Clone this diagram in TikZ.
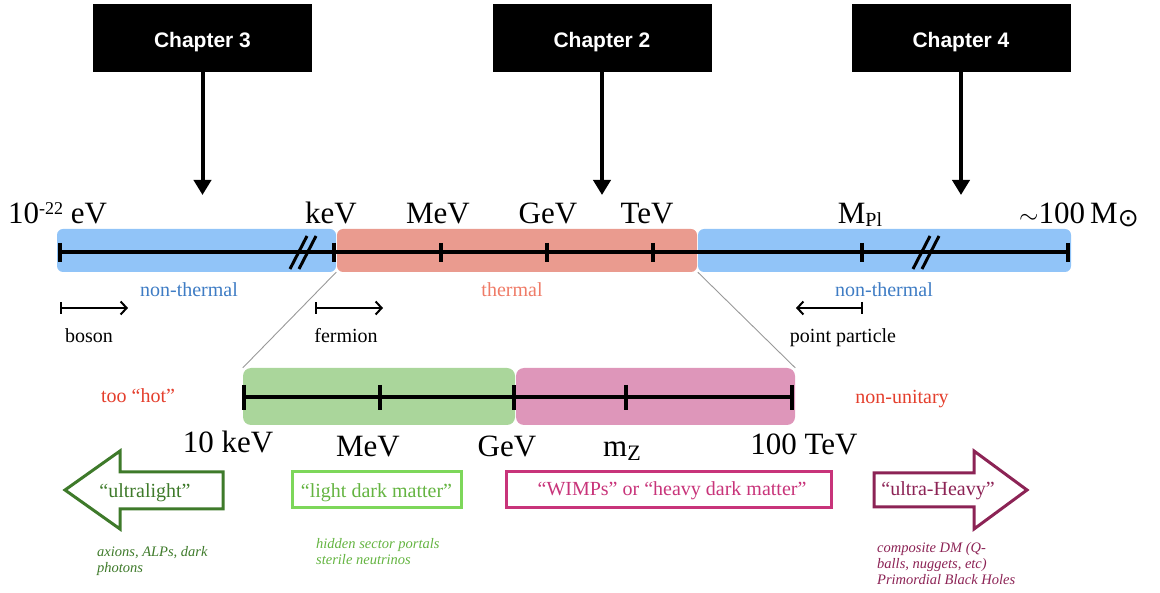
\documentclass[tikz,border=0pt]{standalone}
\usepackage{fontspec}
\setmainfont{Liberation Serif}
\newfontfamily\chapfont{Liberation Sans}
\newfontfamily\symbfont{DejaVu Sans}
\usetikzlibrary{arrows.meta}
\newcommand\setfs[1]{\fontsize{#1}{#1}\selectfont}
\definecolor{bandblue}{RGB}{145,196,248}
\definecolor{bandred}{RGB}{234,155,143}
\definecolor{bandgreen}{RGB}{170,214,155}
\definecolor{bandpink}{RGB}{222,150,186}
\definecolor{txtblue}{RGB}{62,124,196}
\definecolor{txtsalmon}{RGB}{239,123,103}
\definecolor{txtred}{RGB}{228,62,44}
\definecolor{dkgreen}{RGB}{62,122,42}
\definecolor{ltgreen}{RGB}{125,215,90}
\definecolor{ltgreentxt}{RGB}{100,180,65}
\definecolor{wimp}{RGB}{200,52,122}
\definecolor{uheavy}{RGB}{140,35,85}
\begin{document}
\begin{tikzpicture}[x=1pt,y=-1pt,
  chap/.style={fill=black, text=white, font=\chapfont\bfseries\setfs{21}, minimum width=219pt, minimum height=68pt, inner sep=0pt, text height=19pt, text depth=0pt},
  chaparrow/.style={line width=4pt, -{Triangle[width=17pt,length=15pt]}},
  big/.style={font=\setfs{31}, inner sep=0pt, anchor=base},
  mid/.style={font=\setfs{20}, inner sep=0pt, anchor=base},
  note/.style={font=\fontsize{14.5}{16}\selectfont\itshape, align=left, inner sep=0pt, anchor=north west},
  band/.style={rounded corners=6pt, minimum height=43pt, inner sep=0pt},
  lband/.style={rounded corners=8pt, minimum height=57pt, inner sep=0pt},
  axisline/.style={line width=4pt},
  tickline/.style={line width=4pt},
  slash/.style={line width=3pt},
  smallarr/.style={line width=2pt, {Bar[width=12pt]}-{Straight Barb[length=6pt,width=13pt]}},
  zoomline/.style={gray!80, line width=0.9pt},
  catbox/.style={line width=3pt, inner sep=0pt, minimum height=36pt},
  blockarrow/.style={line width=3pt, line join=miter},
]
\useasboundingbox (0,0) rectangle (1160,593);

% chapter boxes
\node[chap] (c3) at (202.5,38) {Chapter 3};
\node[chap] (c2) at (602,38) {Chapter 2};
\node[chap] (c4) at (961,38) {Chapter 4};
\coordinate (c3t) at (202.5,195);
\coordinate (c2t) at (602,195);
\coordinate (c4t) at (961,195);
\draw[chaparrow] (c3.south) -- (c3t);
\draw[chaparrow] (c2.south) -- (c2t);
\draw[chaparrow] (c4.south) -- (c4t);

% upper bands
\node[band, fill=bandblue, minimum width=279pt] (b1) at (196.5,250.5) {};
\node[band, fill=bandred, minimum width=360pt] (b2) at (517,250.5) {};
\node[band, fill=bandblue, minimum width=373pt] (b3) at (884.5,250.5) {};
\draw[axisline] (60,252) -- (1068,252);
\foreach \x in {60,334,441,547,653,862,1068} \draw[tickline] (\x,243) -- (\x,262);
\draw[slash] (290,269) -- (307,236);
\draw[slash] (299,269) -- (316,236);
\draw[slash] (913,269) -- (930,236);
\draw[slash] (922,269) -- (939,236);

% upper labels
\node[big, anchor=base west] (l1) at (8,224) {10\raisebox{9pt}{\setfs{18}-22} eV};
\node[big] (l2) at (331,224) {keV};
\node[big] (l3) at (438,224) {MeV};
\node[big] (l4) at (548,224) {GeV};
\node[big] (l5) at (647,224) {TeV};
\node[big] (l6) at (860,224) {M\raisebox{-3pt}{\setfs{20}Pl}};
\node[big, anchor=base west] (l7) at (1019,224) {$\sim$100\,M\raisebox{-3pt}{\symbfont\setfs{25}⊙}};

\node[mid, text=txtblue] (nt1) at (189,297) {non-thermal};
\node[mid, text=txtsalmon] (th) at (512,297) {thermal};
\node[mid, text=txtblue] (nt2) at (884,297) {non-thermal};

% small arrows
\coordinate (bosA) at (60,308); \coordinate (bosB) at (128,308);
\coordinate (ferA) at (315,308); \coordinate (ferB) at (383,308);
\coordinate (ppA) at (863,308); \coordinate (ppB) at (796,308);
\draw[smallarr] (bosA) -- (bosB);
\draw[smallarr] (ferA) -- (ferB);
\draw[smallarr] (ppA) -- (ppB);
\node[mid] (bos) at (89,343) {boson};
\node[mid] (fer) at (346,343) {fermion};
\node[mid] (pp) at (843,343) {point particle};

% lower bands
\node[lband, fill=bandgreen, minimum width=272pt] (g1) at (379,396.5) {};
\node[lband, fill=bandpink, minimum width=279pt] (p1) at (655.5,396.5) {};
\draw[zoomline] (b1.south east) -- (g1.north west);
\draw[zoomline] (b3.south west) -- (p1.north east);
\draw[axisline] (244,397) -- (792,397);
\foreach \x in {244,380,514,626,792} \draw[tickline] (\x,385) -- (\x,410);

\node[mid, text=txtred] (hot) at (138,403) {too “hot”};
\node[mid, text=txtred] (nu) at (902,404) {non-unitary};

\node[big] (m1) at (228,453) {10 keV};
\node[big] (m2) at (368,457) {MeV};
\node[big] (m3) at (507,457) {GeV};
\node[big] (m4) at (622,457) {m\raisebox{-3pt}{\setfs{22}Z}};
\node[big] (m5) at (804,455) {100 TeV};

% categories
\draw[blockarrow, dkgreen] (223,472) -- (120,472) -- (120,451) -- (65,490) -- (120,529) -- (120,509) -- (223,509) -- cycle;
\node[mid, text=dkgreen] (ul) at (145,497) {“ultralight”};
\node[catbox, draw=ltgreen, minimum width=169pt] (ldm) at (376.5,490) {};
\node[mid, text=ltgreentxt] (ldmt) at (376.5,497) {“light dark matter”};
\node[catbox, draw=wimp, minimum width=325pt] (wb) at (668.5,490) {};
\node[mid, text=wimp] (wbt) at (672,496) {“WIMPs” or “heavy dark matter”};
\draw[blockarrow, uheavy] (874,473) -- (974,473) -- (974,451) -- (1027,490) -- (974,529) -- (974,507) -- (874,507) -- cycle;
\node[mid, text=uheavy] (uh) at (938,496) {“ultra-Heavy”};

\node[note, text=dkgreen] (n1) at (97,546) {axions, ALPs, dark\\photons};
\node[note, text=ltgreentxt] (n2) at (316,538) {hidden sector portals\\sterile neutrinos};
\node[note, text=uheavy] (n3) at (877,542) {composite DM (Q-\\balls, nuggets, etc)\\Primordial Black Holes};
\end{tikzpicture}
\end{document}
